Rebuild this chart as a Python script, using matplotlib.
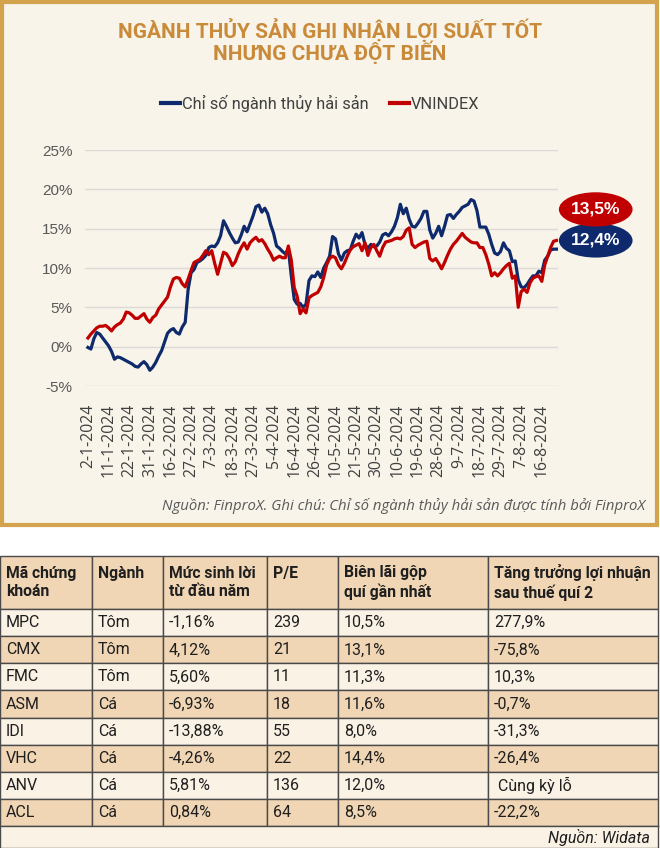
# -*- coding: utf-8 -*-
# Nganh thuy san vs VNINDEX - loi suat tu dau nam 2024 + bang so lieu
import numpy as np
import matplotlib.pyplot as plt
from matplotlib.patches import Rectangle, Ellipse
from matplotlib.ticker import FuncFormatter

# Loi suat tu dau nam (%), theo phien giao dich
nganh_thuy_san = [
    -0.1, -0.3, 1.0, 1.8, 1.6, 1.1, 0.6, 0.1, -0.6, -1.6,
    -1.3, -1.4, -1.6, -1.8, -2.0, -2.2, -2.5, -2.6, -2.2, -1.9,
    -2.3, -3.0, -2.6, -2.0, -1.2, -0.5, 0.6, 1.7, 2.1, 2.3,
    1.8, 1.6, 2.5, 3.1, 7.3, 9.4, 9.8, 10.7, 10.9, 11.2,
    11.6, 12.6, 12.8, 12.7, 13.2, 14.1, 16.0, 15.3, 14.5, 13.8,
    13.2, 13.3, 14.2, 15.3, 14.6, 15.6, 16.6, 17.8, 18.0, 17.1,
    17.6, 16.9, 15.5, 14.4, 12.8, 12.5, 12.1, 11.8, 12.4, 9.0,
    6.0, 5.4, 5.5, 5.0, 5.4, 8.4, 9.0, 8.9, 9.5, 8.8,
    10.0, 10.7, 11.5, 14.0, 13.7, 11.8, 11.0, 11.9, 12.2, 12.3,
    13.4, 14.3, 13.8, 14.5, 13.0, 12.5, 13.0, 12.7, 12.8, 13.3,
    14.2, 14.4, 14.1, 14.6, 15.3, 16.4, 18.1, 16.9, 17.6, 16.2,
    15.3, 15.2, 15.7, 16.3, 17.2, 17.2, 14.8, 13.8, 14.4, 15.3,
    14.1, 15.3, 16.7, 16.8, 16.3, 16.8, 17.2, 17.7, 17.9, 18.1,
    18.7, 18.5, 17.3, 15.2, 15.2, 15.2, 14.3, 13.0, 11.9, 11.7,
    12.1, 13.2, 12.5, 12.2, 10.8, 10.9, 8.5, 7.6, 7.5, 7.9,
    8.5, 9.0, 9.0, 9.6, 9.4, 11.0, 11.5, 12.3, 12.4, 12.4,
]
vnindex = [
    1.1, 1.6, 2.0, 2.4, 2.6, 2.6, 2.7, 2.4, 2.0, 2.5,
    2.8, 3.0, 3.5, 4.4, 4.3, 4.0, 3.6, 3.6, 3.9, 4.2,
    3.5, 3.1, 3.7, 4.0, 4.8, 5.3, 5.8, 6.3, 7.6, 8.6,
    8.8, 8.7, 8.0, 7.6, 8.6, 9.7, 10.7, 10.9, 11.1, 11.6,
    12.2, 11.7, 12.2, 10.6, 9.2, 10.6, 12.0, 11.8, 11.2, 10.3,
    10.8, 11.8, 12.6, 13.2, 12.4, 13.2, 13.6, 13.9, 13.4, 13.6,
    13.1, 12.4, 11.8, 11.0, 11.3, 11.5, 11.3, 11.3, 12.8, 11.0,
    7.5, 6.4, 4.2, 4.8, 4.3, 6.2, 6.5, 6.7, 6.9, 7.6,
    8.8, 10.4, 11.2, 11.5, 11.3, 10.4, 9.9, 10.6, 11.5, 12.3,
    12.7, 12.9, 13.1, 12.2, 13.2, 11.6, 12.6, 13.0, 12.2, 11.5,
    12.6, 13.3, 13.4, 13.5, 13.7, 13.8, 13.7, 14.0, 14.8, 15.1,
    13.0, 12.6, 12.9, 13.1, 13.3, 13.4, 11.2, 10.9, 11.2, 10.6,
    9.9, 10.7, 11.6, 12.4, 13.0, 13.4, 13.9, 14.4, 13.9, 13.6,
    13.3, 13.2, 13.2, 12.6, 12.6, 11.7, 10.5, 9.0, 9.4, 9.0,
    9.4, 9.9, 10.3, 10.6, 8.7, 9.0, 5.0, 7.0, 7.3, 6.9,
    8.1, 8.7, 8.9, 9.0, 8.3, 10.4, 11.5, 12.6, 13.4, 13.5,
]
nhan_ngay = ['2-1-2024', '11-1-2024', '22-1-2024', '31-1-2024', '16-2-2024',
             '27-2-2024', '7-3-2024', '18-3-2024', '27-3-2024', '5-4-2024',
             '16-4-2024', '26-4-2024', '10-5-2024', '21-5-2024', '30-5-2024',
             '10-6-2024', '19-6-2024', '28-6-2024', '9-7-2024', '18-7-2024',
             '29-7-2024', '7-8-2024', '16-8-2024']
buoc_nhan = 7  # moi nhan cach nhau 7 phien

# Bang so lieu
tieu_de_cot = ['Mã chứng\nkhoán', 'Ngành\n ', 'Mức sinh lời\ntừ đầu năm', 'P/E\n ',
               'Biên lãi gộp\nquí gần nhất', 'Tăng trưởng lợi nhuận\nsau thuế quí 2']
ma_ck = ['MPC', 'CMX', 'FMC', 'ASM', 'IDI', 'VHC', 'ANV', 'ACL']
nganh = ['Tôm', 'Tôm', 'Tôm', 'Cá', 'Cá', 'Cá', 'Cá', 'Cá']
sinh_loi = ['-1,16%', '4,12%', '5,60%', '-6,93%', '-13,88%', '-4,26%', '5,81%', '0,84%']
pe = ['239', '21', '11', '18', '55', '22', '136', '64']
bien_lai = ['10,5%', '13,1%', '11,3%', '11,6%', '8,0%', '14,4%', '12,0%', '8,5%']
tang_truong = ['277,9%', '-75,8%', '10,3%', '-0,7%', '-31,3%', '-26,4%', ' Cùng kỳ lỗ', '-22,2%']

NAVY = '#0E2A6C'
RED = '#C00000'
CREAM = '#F8F4E9'
GOLD = '#D4A34D'
FONT = 'Roboto'

W, H = 660, 848
fig = plt.figure(figsize=(W / 100, H / 100), dpi=100)
fig.patch.set_facecolor('white')

# khung bieu do
fig.patches.append(Rectangle((2 / W, 1 - 525 / H), 655 / W, 523 / H, transform=fig.transFigure,
                             facecolor=CREAM, edgecolor=GOLD, linewidth=3, zorder=-5))

fig.text(0.5, 1 - 30 / H, 'NGÀNH THỦY SẢN GHI NHẬN LỢI SUẤT TỐT', ha='center', va='center',
         fontsize=15, fontweight='bold', color='#C98A3A', family=FONT)
fig.text(0.5, 1 - 52 / H, 'NHƯNG CHƯA ĐỘT BIẾN', ha='center', va='center',
         fontsize=15, fontweight='bold', color='#C98A3A', family=FONT)

ax = fig.add_axes([85 / W, 1 - 386 / H, 473 / W, 236 / H])
ax.set_facecolor('none')
x = np.arange(len(vnindex))
ax.plot(x, nganh_thuy_san, color=NAVY, lw=2.3, label='Chỉ số ngành thủy hải sản',
        solid_joinstyle='round')
ax.plot(x, vnindex, color=RED, lw=2.3, label='VNINDEX', solid_joinstyle='round')

ax.set_ylim(-5, 25)
ax.set_yticks(range(-5, 30, 5))
ax.yaxis.set_major_formatter(FuncFormatter(lambda v, p: f'{v:.0f}%'))
ax.set_xlim(-1, len(vnindex) - 0.5)
ax.set_xticks(x[::buoc_nhan][:len(nhan_ngay)])
ax.set_xticklabels(nhan_ngay, rotation=90)
ax.grid(axis='y', color='#DCDAD6', lw=1)
ax.set_axisbelow(True)
for s in ax.spines.values():
    s.set_visible(False)
ax.tick_params(axis='y', length=0, pad=9, labelsize=11, labelcolor='#595959')
ax.tick_params(axis='x', length=0, pad=13, labelsize=11.3, labelcolor='#404040')
for t in ax.get_yticklabels():
    t.set_family('Liberation Sans')
for t in ax.get_xticklabels():
    t.set_family('Open Sans')

leg = ax.legend(loc='center', bbox_to_anchor=(0.485, 1 - 103 / H), bbox_transform=fig.transFigure,
                ncol=2, frameon=False, handlelength=1.2, handletextpad=0.1, columnspacing=1.3,
                prop={'family': FONT, 'size': 11.8})
for t in leg.get_texts():
    t.set_color('#404040')
for l in leg.get_lines():
    l.set_linewidth(3)

# nhan gia tri cuoi ky
cuoi = len(vnindex) - 1
for val, yc, col in [(nganh_thuy_san[-1], 13.5, NAVY), (vnindex[-1], 17.45, RED)]:
    ax.add_patch(Ellipse((cuoi + 13.3, yc), 25, 4.35, facecolor=col, edgecolor='none', clip_on=False))
    ax.text(cuoi + 13.3, yc, f'{val:.1f}%'.replace('.', ','), ha='center', va='center',
            color='white', fontsize=12.5, fontweight='bold', family='Liberation Sans')

fig.text(645 / W, 1 - 506 / H,
         'Nguồn: FinproX. Ghi chú: Chỉ số ngành thủy hải sản được tính bởi FinproX',
         ha='right', va='center', style='italic', fontsize=10.7, color='#595959', family='Open Sans')

# bang
tab_ax = fig.add_axes([0, 1 - 826 / H, 658 / W, 270 / H])
tab_ax.axis('off')
rows = list(zip(ma_ck, nganh, sinh_loi, pe, bien_lai, tang_truong))
col_px = [92, 71, 104, 71, 150, 170]
tab = tab_ax.table(cellText=rows, colLabels=tieu_de_cot, cellLoc='left', colLoc='left',
                   colWidths=[c / sum(col_px) for c in col_px], bbox=[0, 0, 1, 1])
tab.auto_set_font_size(False)
TAN = '#F0D6B4'
LIGHT = '#FBF2E6'
for (r, c), cell in tab.get_celld().items():
    cell.set_edgecolor('#4A4A4A')
    cell.set_linewidth(1)
    cell.set_height(53 if r == 0 else 27)
    cell.PAD = 6 / col_px[c]
    if r == 0:
        cell.set_facecolor(TAN)
    else:
        cell.set_facecolor(LIGHT if r % 2 == 1 else TAN)
    txt = cell.get_text()
    txt.set_family(FONT)
    txt.set_color('#1F1F1F')
    if r == 0:
        txt.set_fontsize(11.3)
        txt.set_fontweight('bold')
        txt.set_linespacing(1.3)
    else:
        txt.set_fontsize(11.5)

src_ax = fig.add_axes([0, 0, 658 / W, 22 / H])
src_ax.set_facecolor(LIGHT)
src_ax.set_xticks([])
src_ax.set_yticks([])
for s in src_ax.spines.values():
    s.set_color('#4A4A4A')
    s.set_linewidth(1)
src_ax.text(0.988, 0.5, 'Nguồn: Widata', transform=src_ax.transAxes, ha='right', va='center',
            style='italic', fontsize=11.5, family=FONT, color='#1F1F1F')

fig.savefig('out.png', dpi=100)
